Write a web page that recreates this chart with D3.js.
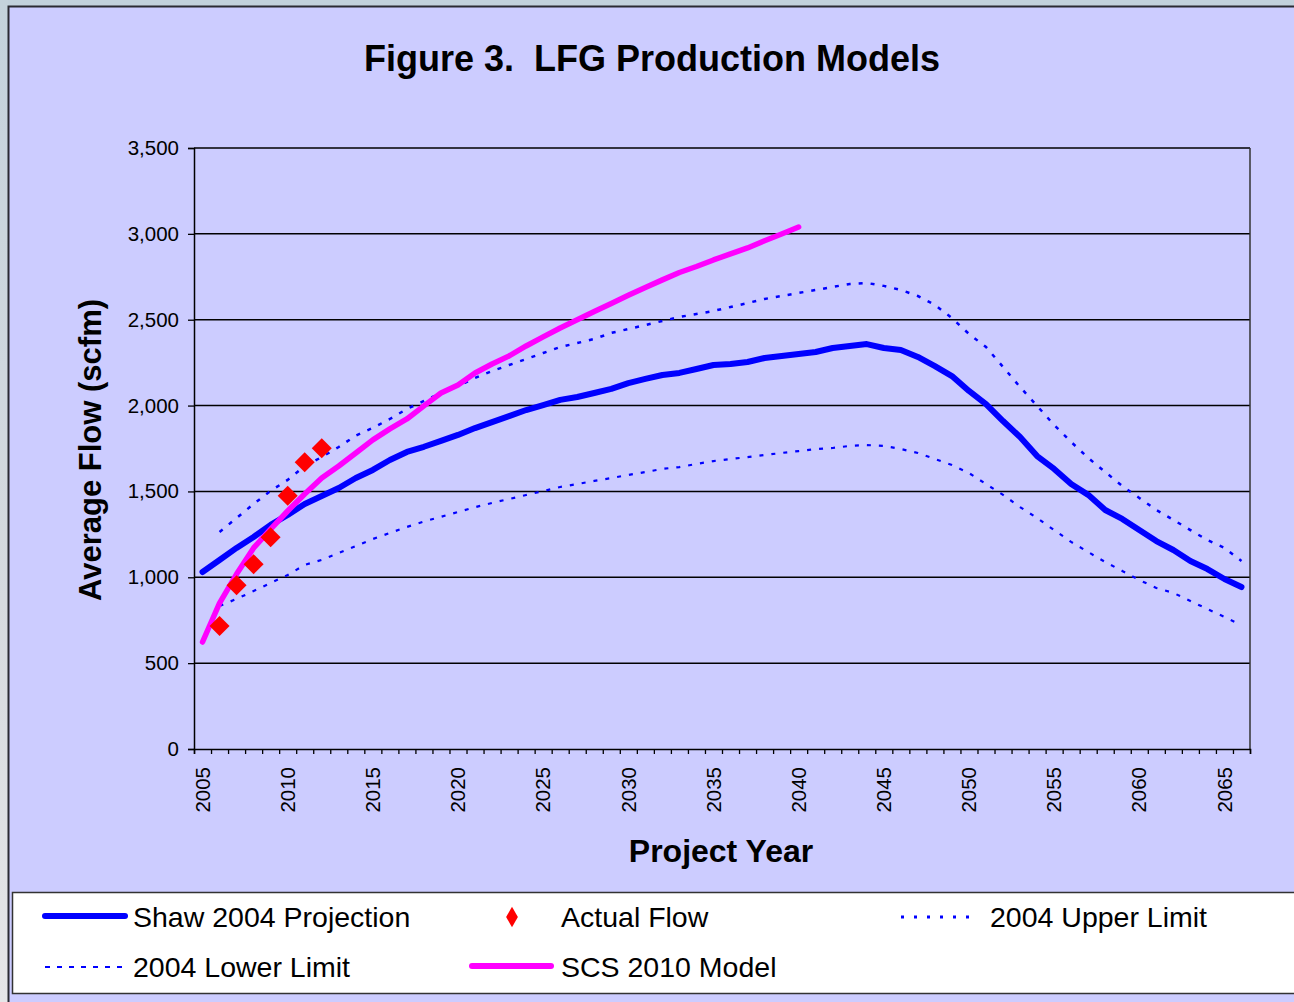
<!DOCTYPE html>
<html>
<head>
<meta charset="utf-8">
<script src="https://cdn.jsdelivr.net/npm/d3@7"></script>
<style>
  body { margin: 0; background: #c2d1dc; }
  svg { display: block; font-family: "Liberation Sans", Arial, sans-serif; }
</style>
</head>
<body>
<script>
// categories (project years)
var years = d3.range(2005, 2067);

// Shaw 2004 Projection (scfm), 2005-2066
var shaw = [1031, 1101, 1171, 1235, 1305, 1363, 1427, 1473, 1520, 1578,
            1625, 1683, 1730, 1760, 1794, 1829, 1869, 1904, 1939, 1974,
            2003, 2033, 2050, 2073, 2097, 2131, 2155, 2178, 2190, 2213,
            2236, 2242, 2254, 2277, 2289, 2300, 2312, 2335, 2347, 2358,
            2335, 2324, 2283, 2230, 2172, 2085, 2009, 1910, 1817, 1706,
            1631, 1543, 1480, 1392, 1340, 1275, 1211, 1159, 1095, 1048,
            990, 943];

// 2004 Upper Limit, 2005-2066
var upper = [null, 1264, 1345, 1427, 1503, 1567, 1648, 1700, 1759, 1825,
             1870, 1922, 1980, 2027, 2073, 2114, 2161, 2201, 2236, 2271,
             2306, 2341, 2364, 2388, 2423, 2446, 2469, 2493, 2516, 2533,
             2551, 2574, 2597, 2621, 2638, 2656, 2673, 2691, 2708, 2714,
             2697, 2673, 2638, 2586, 2510, 2417, 2341, 2225, 2108, 1998,
             1887, 1788, 1695, 1613, 1532, 1462, 1392, 1334, 1275, 1217,
             1171, 1095];

// 2004 Lower Limit, 2005-2066
var lower = [null, 833, 874, 920, 967, 1013, 1072, 1101, 1141, 1182,
             1223, 1258, 1293, 1325, 1352, 1380, 1408, 1433, 1456, 1479,
             1502, 1526, 1543, 1561, 1578, 1596, 1613, 1631, 1642, 1660,
             1677, 1689, 1700, 1712, 1724, 1735, 1747, 1753, 1765, 1770,
             1765, 1747, 1724, 1689, 1654, 1607, 1543, 1480, 1409, 1345,
             1275, 1206, 1147, 1089, 1037, 984, 938, 909, 862, 815,
             769, 722];

// SCS 2010 Model, 2005-2040
var scs = [623, 850, 1019, 1171, 1281, 1386, 1485, 1578, 1648, 1724,
           1800, 1864, 1922, 1998, 2073, 2120, 2190, 2242, 2289, 2347,
           2400, 2452, 2500, 2548, 2595, 2642, 2688, 2732, 2775, 2810,
           2848, 2883, 2918, 2960, 2999, 3040];

// Actual Flow
var actualYears = [2006, 2007, 2008, 2009, 2010, 2011, 2012];
var actual = [716, 953, 1076, 1233, 1475, 1670, 1752];

var yTicks = [0, 500, 1000, 1500, 2000, 2500, 3000, 3500];
var xLabelYears = [2005, 2010, 2015, 2020, 2025, 2030, 2035, 2040, 2045, 2050, 2055, 2060, 2065];

var width = 1294, height = 1002;
var pad = { left: 194, right: 1250, top: 148, bottom: 749 };
var font = "'Liberation Sans', Arial, sans-serif";

var svg = d3.select("body").append("svg")
            .attr("width", width)
            .attr("height", height);

// backdrop outside the chart
var defs = svg.append("defs");
var grad = defs.append("linearGradient").attr("id", "side")
               .attr("x1", 0).attr("y1", 0).attr("x2", 0).attr("y2", 1);
grad.append("stop").attr("offset", "0%").attr("stop-color", "#c4d2dc");
grad.append("stop").attr("offset", "60%").attr("stop-color", "#d6dadf");
grad.append("stop").attr("offset", "100%").attr("stop-color", "#e6e6e8");
svg.append("rect").attr("x", 0).attr("y", 0).attr("width", 8).attr("height", height)
   .attr("fill", "url(#side)");

// chart panel
svg.append("rect")
   .attr("x", 8.5).attr("y", 6.5)
   .attr("width", 1300).attr("height", 1010)
   .attr("fill", "#ccccff")
   .attr("stroke", "#2a2a33").attr("stroke-width", 2);

// title
svg.append("text")
   .attr("x", 652).attr("y", 71)
   .attr("text-anchor", "middle")
   .attr("font-size", 36)
   .attr("font-weight", "bold")
   .style("white-space", "pre")
   .text("Figure 3.  LFG Production Models");

// scales
var xScale = d3.scaleBand()
               .domain(years)
               .range([pad.left, pad.right])
               .padding(0);
var xc = function(yr) { return xScale(yr) + xScale.bandwidth() / 2; };

var yScale = d3.scaleLinear()
               .domain([0, 3500])
               .range([pad.bottom, pad.top]);

// gridlines
svg.append("g").selectAll("line")
   .data(yTicks.slice(1))
   .enter().append("line")
   .attr("x1", pad.left).attr("x2", pad.right)
   .attr("y1", function(d){ return yScale(d); })
   .attr("y2", function(d){ return yScale(d); })
   .attr("stroke", "#000").attr("stroke-width", 1.5);

// right border of the plot area
svg.append("line")
   .attr("x1", pad.right).attr("x2", pad.right)
   .attr("y1", pad.top).attr("y2", pad.bottom)
   .attr("stroke", "#333").attr("stroke-width", 1.5);

// y axis
var yAxis = d3.axisLeft(yScale)
              .tickValues(yTicks)
              .tickSize(6)
              .tickPadding(9)
              .tickFormat(d3.format(","));
var gy = svg.append("g")
            .attr("transform", "translate(" + pad.left + ",0)")
            .call(yAxis);
gy.select(".domain").attr("stroke", "#000").attr("stroke-width", 1.5);
gy.selectAll(".tick line").attr("stroke", "#000").attr("stroke-width", 1.3);
gy.selectAll(".tick text")
  .attr("font-size", 20.5)
  .attr("font-family", font)
  .attr("fill", "#000");

// x axis: tick marks at category boundaries
var xEdge = d3.scaleLinear()
              .domain([0, years.length])
              .range([pad.left, pad.right]);
var xTickAxis = d3.axisBottom(xEdge)
                  .tickValues(d3.range(0, years.length + 1))
                  .tickSize(5)
                  .tickFormat("");
var gx = svg.append("g")
            .attr("transform", "translate(0," + pad.bottom + ")")
            .call(xTickAxis);
gx.select(".domain").attr("stroke", "#000").attr("stroke-width", 1.5);
gx.selectAll(".tick line").attr("stroke", "#000").attr("stroke-width", 1.3);

// x axis labels (rotated)
var xLabAxis = d3.axisBottom(xScale)
                 .tickValues(xLabelYears)
                 .tickSize(0)
                 .tickFormat(d3.format("d"));
var gxl = svg.append("g")
             .attr("transform", "translate(0," + pad.bottom + ")")
             .call(xLabAxis);
gxl.select(".domain").remove();
gxl.selectAll(".tick text")
   .attr("font-size", 20.5)
   .attr("font-family", font)
   .attr("fill", "#000")
   .attr("text-anchor", "end")
   .attr("transform", "rotate(-90)")
   .attr("x", -18)
   .attr("y", 0)
   .attr("dy", "0.35em");

// axis titles
svg.append("text")
   .attr("transform", "translate(101,450) rotate(-90)")
   .attr("text-anchor", "middle")
   .attr("font-size", 31)
   .attr("font-weight", "bold")
   .text("Average Flow (scfm)");

svg.append("text")
   .attr("x", 721).attr("y", 862)
   .attr("text-anchor", "middle")
   .attr("font-size", 32)
   .attr("font-weight", "bold")
   .text("Project Year");

// series lines
var lineGen = function(values) {
    return d3.line()
             .defined(function(d){ return d != null; })
             .x(function(d, i){ return xc(years[i]); })
             .y(function(d){ return yScale(d); })(values);
};

svg.append("path")
   .attr("d", lineGen(lower))
   .attr("fill", "none").attr("stroke", "#0000ff")
   .attr("stroke-width", 2.2).attr("stroke-dasharray", "4,8");

svg.append("path")
   .attr("d", lineGen(upper))
   .attr("fill", "none").attr("stroke", "#0000ff")
   .attr("stroke-width", 2.5).attr("stroke-dasharray", "4,8");

svg.append("path")
   .attr("d", lineGen(shaw))
   .attr("fill", "none").attr("stroke", "#0000ff")
   .attr("stroke-width", 6)
   .attr("stroke-linejoin", "round").attr("stroke-linecap", "round");

svg.append("path")
   .attr("d", lineGen(scs))
   .attr("fill", "none").attr("stroke", "#ff00ff")
   .attr("stroke-width", 5.5)
   .attr("stroke-linejoin", "round").attr("stroke-linecap", "round");

// actual flow markers
var diamond = d3.symbol().type(d3.symbolSquare).size(200);
svg.append("g").selectAll("path")
   .data(actual)
   .enter().append("path")
   .attr("d", diamond)
   .attr("transform", function(d, i){
        return "translate(" + xc(actualYears[i]) + "," + yScale(d) + ") rotate(45)";
   })
   .attr("fill", "#ff0000");

// legend
svg.append("rect")
   .attr("x", 12.5).attr("y", 892.5)
   .attr("width", 1300).attr("height", 101)
   .attr("fill", "#ffffff")
   .attr("stroke", "#333").attr("stroke-width", 1.5);

var leg = svg.append("g").attr("font-size", 28.5);

leg.append("line").attr("x1", 45).attr("x2", 125).attr("y1", 916).attr("y2", 916)
   .attr("stroke", "#0000ff").attr("stroke-width", 6).attr("stroke-linecap", "round");
leg.append("text").attr("x", 133).attr("y", 927).text("Shaw 2004 Projection");

leg.append("path")
   .attr("d", d3.symbol().type(d3.symbolDiamond).size(120))
   .attr("transform", "translate(512,917)")
   .attr("fill", "#ff0000");
leg.append("text").attr("x", 561).attr("y", 927).text("Actual Flow");

leg.append("line").attr("x1", 901).attr("x2", 978).attr("y1", 917).attr("y2", 917)
   .attr("stroke", "#0000ff").attr("stroke-width", 3).attr("stroke-dasharray", "3,10");
leg.append("text").attr("x", 990).attr("y", 927).text("2004 Upper Limit");

leg.append("line").attr("x1", 45).attr("x2", 122).attr("y1", 967).attr("y2", 967)
   .attr("stroke", "#0000ff").attr("stroke-width", 2).attr("stroke-dasharray", "5,7");
leg.append("text").attr("x", 133).attr("y", 977).text("2004 Lower Limit");

leg.append("line").attr("x1", 472).attr("x2", 551).attr("y1", 966).attr("y2", 966)
   .attr("stroke", "#ff00ff").attr("stroke-width", 6).attr("stroke-linecap", "round");
leg.append("text").attr("x", 561).attr("y", 977).text("SCS 2010 Model");
</script>
</body>
</html>
